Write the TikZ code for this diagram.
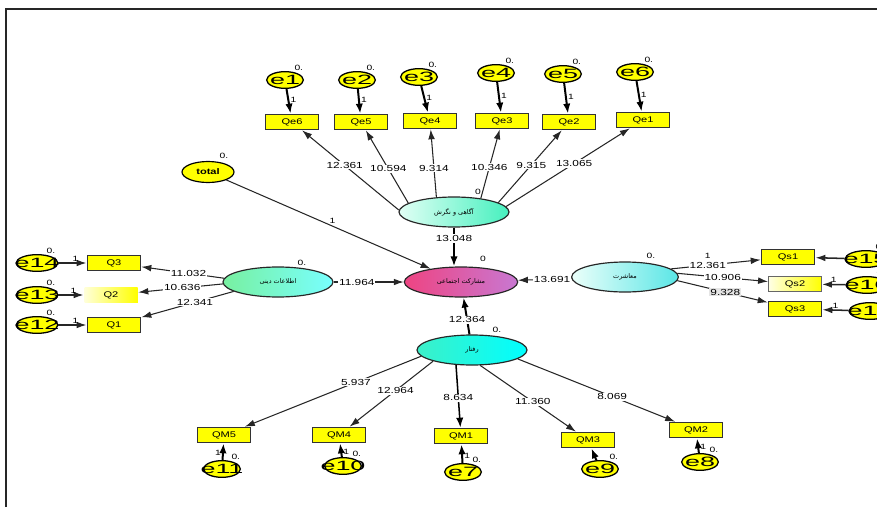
\documentclass[tikz,border=0pt]{standalone}
\usepackage{fontspec}
\setmainfont{Liberation Sans}
\newfontfamily\amos[FakeStretch=1.35]{Liberation Sans}
\newfontfamily\amoswide[FakeStretch=2]{Liberation Sans}
\newfontfamily\farsi[Script=Arabic]{DejaVu Sans}
\TeXXeTstate=1
\usetikzlibrary{shapes.geometric,arrows.meta}

\definecolor{amosyellow}{RGB}{255,255,0}

\tikzset{
  obs/.style={draw=black!80, line width=1.4pt, fill=amosyellow, minimum width=1.59cm,
    minimum height=0.45cm, inner sep=0pt, font=\amos\fontsize{7}{7}\selectfont},
  err/.style={ellipse, draw=black, line width=1.1pt, fill=amosyellow, minimum width=1.1cm,
    minimum height=0.5cm, inner sep=0pt,
    label={[font=\amoswide\fontsize{11.5}{11.5}\selectfont, inner sep=0pt]center:#1},
    label={[zero]above right:0.}},
  lat/.style={ellipse, draw=black!85, line width=1pt, minimum width=3.3cm, minimum height=0.9cm,
    inner sep=0pt, font=\farsi\fontsize{5.5}{6}\selectfont},
  num/.style={font=\amos\fontsize{7.5}{8}\selectfont, fill=white, inner sep=0.8pt},
  zero/.style={font=\amos\fontsize{6.5}{7}\selectfont, inner sep=1pt},
  load/.style={-{Latex[length=3mm,width=2mm]}, line width=0.9pt, draw=black!85},
  errarrow/.style={-{Latex[length=3mm,width=2.2mm]}, line width=1.7pt},
}

\begin{document}
\begin{tikzpicture}[x=0.03cm, y=-0.03cm]
    \useasboundingbox (0,0) rectangle (877,507);
    \clip (0,0) rectangle (877,507);
    % frame
    \draw[line width=1.3pt, black!85] (6,507) -- (6,9) -- (877,9);

    % latent variables
    \node[lat, left color={rgb,255:red,225;green,255;blue,245}, right color={rgb,255:red,70;green,240;blue,190}]
        (aware) at (454,212) {\beginR آگاهی و نگرش\endR};
    \node[lat, minimum width=3.4cm, left color={rgb,255:red,238;green,68;blue,130}, right color={rgb,255:red,200;green,120;blue,210}]
        (particip) at (461,282) {\beginR مشارکت اجتماعی\endR};
    \node[lat, left color={rgb,255:red,120;green,240;blue,160}, right color={rgb,255:red,120;green,255;blue,255}]
        (relinfo) at (278,282) {\beginR اطلاعات دینی\endR};
    \node[lat, minimum width=3.2cm, left color={rgb,255:red,235;green,255;blue,250}, right color={rgb,255:red,90;green,230;blue,230}]
        (mixing) at (625,277) {\beginR معاشرت\endR};
    \node[lat, left color={rgb,255:red,60;green,240;blue,200}, right color={rgb,255:red,0;green,255;blue,255}]
        (behave) at (472,350) {\beginR رفتار\endR};
    \node[ellipse, draw, line width=1pt, fill=amosyellow, minimum width=1.56cm, minimum height=0.63cm,
        inner sep=0pt, font=\amos\bfseries\fontsize{7}{7}\selectfont] (total) at (208,172) {total};

    \node[zero] (awarez) at (478,192) {0};
    \node[zero] (participz) at (483,259) {0};
    \node[zero] (relinfoz) at (302,263) {0.};
    \node[zero] (mixingz) at (651,256) {0.};
    \node[zero] (behavez) at (497,330) {0.};
    \node[zero] (totalz) at (224,156) {0.};

    % awareness indicators
    \foreach \q/\x/\y in {Qe6/292/122, Qe5/361/122, Qe4/430/121, Qe3/502/121, Qe2/569/122, Qe1/643/120}
        \node[obs] (\q) at (\x,\y) {\q};
    \foreach \e/\x/\y in {e1/285/80, e2/357/80, e3/419/77, e4/496/73, e5/563/74, e6/635/72}
        \node[err=\e] (\e) at (\x,\y) {};
    \foreach \e/\q in {e1/Qe6, e2/Qe5, e3/Qe4, e4/Qe3, e5/Qe2, e6/Qe1}
        \draw[errarrow] (\e) -- node[zero, right, pos=0.45] (\e-one) {1} (\q);
    \draw[load] (aware.178) -- node[num, pos=0.56] (w6) {12.361} (Qe6);
    \draw[load] (aware.169) -- node[num, pos=0.47] (w5) {10.594} (Qe5);
    \draw[load] (aware.140) -- node[num, pos=0.43] (w4) {9.314} (Qe4);
    \draw[load] (aware.27) -- node[num, pos=0.45] (w3) {10.346} (Qe3);
    \draw[load] (aware.12) -- node[num, pos=0.52] (w2) {9.315} (Qe2);
    \draw[load] (aware.6) -- node[num, pos=0.55] (w1) {13.065} (Qe1);

    % religious information indicators
    \node[obs] (Q3) at (114,263) {Q3};
    \node[obs, draw=none, left color=yellow!15, middle color=yellow, right color=yellow] (Q2) at (111,295) {Q2};
    \node[obs] (Q1) at (114,325) {Q1};
    \foreach \e/\y in {e14/263, e13/295, e12/325}
        \node[err=\e, minimum width=1.25cm] (\e) at (37,\y) {};
    \foreach \e/\q in {e14/Q3, e13/Q2, e12/Q1}
        \draw[load, line width=1.3pt] (\e) -- node[zero, above, pos=0.6] (\e-one) {1} (\q);
    \draw[load] (relinfo.176) -- node[num, pos=0.43] (r3) {11.032} (Q3);
    \draw[load] (relinfo.182) -- node[num, pos=0.48] (r2) {10.636} (Q2);
    \draw[load] (relinfo.192) -- node[num, pos=0.42] (r1) {12.341} (Q1);

    % socializing indicators
    \node[obs] (Qs1) at (788,257) {Qs1};
    \node[obs, draw=black!60, line width=0.8pt, left color=yellow!10, right color=yellow] (Qs2) at (795,284) {Qs2};
    \node[obs] (Qs3) at (795,309) {Qs3};
    \node[err=e15, minimum width=1.25cm] (e15) at (866,259) {};
    \node[err=e16, minimum width=1.25cm] (e16) at (867,285) {};
    \node[err=e17, minimum width=1.25cm] (e17) at (870,311) {};
    \draw[load, line width=1.3pt] (e15) -- (Qs1);
    \draw[load, line width=1.3pt] (e16) -- node[zero, above, pos=0.5] (e16-one) {1} (Qs2);
    \draw[load, line width=1.3pt] (e17) -- node[zero, above, pos=0.5] (e17-one) {1} (Qs3);
    \draw[load] (mixing.10) -- node[num, pos=0.41] (s1) {12.361} node[zero, pos=0.41, above=4pt] (s1-one) {1} (Qs1);
    \draw[load] (mixing.4) -- node[num, pos=0.5] (s2) {10.906} (Qs2);
    \draw[load] (mixing.-4) -- node[num, fill=black!10, pos=0.53] (s3) {9.328} (Qs3);

    % behaviour indicators
    \foreach \q/\x/\y in {QM5/224/435, QM4/339/435, QM1/461/436, QM3/588/440, QM2/696/430}
        \node[obs] (\q) at (\x,\y) {\q};
    \foreach \e/\x/\y in {e11/222/469, e10/343/466, e7/463/472, e9/600/469, e8/700/462}
        \node[err=\e] (\e) at (\x,\y) {};
    \draw[errarrow] (e11) -- node[zero, left, pos=0.4] (e11-one) {1} (QM5);
    \draw[errarrow] (e10) -- node[zero, right, pos=0.4] (e10-one) {1} (QM4);
    \draw[errarrow] (e7) -- node[zero, right, pos=0.4] (e7-one) {1} (QM1);
    \draw[errarrow] (e9) -- (QM3);
    \draw[errarrow] (e8) -- node[zero, right, pos=0.4] (e8-one) {1} (QM2);
    \draw[load] (behave.187) -- node[num, pos=0.37] (b5) {5.937} (QM5);
    \draw[load] (behave.196) -- node[num, pos=0.45] (b4) {12.964} (QM4);
    \draw[errarrow, line width=1.3pt] (behave.223) -- node[num, pos=0.52] (b1) {8.634} (QM1);
    \draw[load] (behave.298) -- node[num, pos=0.55] (b3) {11.360} (QM3);
    \draw[load] (behave.349) -- node[num, pos=0.6] (b2) {8.069} (QM2);

    % paths to social participation
    \draw[errarrow] (aware.south) -- node[num, pos=0.28] (p1) {13.048} (aware.south |- particip.north);
    \draw[load] (total) -- node[zero, pos=0.52, above=1pt] (p0) {1} (particip);
    \draw[load] (relinfo) -- node[num, pos=0.33] (p2) {11.964} (particip);
    \draw[load] (mixing) -- node[num, pos=0.36] (p3) {13.691} (particip);
    \draw[errarrow] (behave) -- node[num, pos=0.4] (p4) {12.364} (particip);
\end{tikzpicture}
\end{document}
